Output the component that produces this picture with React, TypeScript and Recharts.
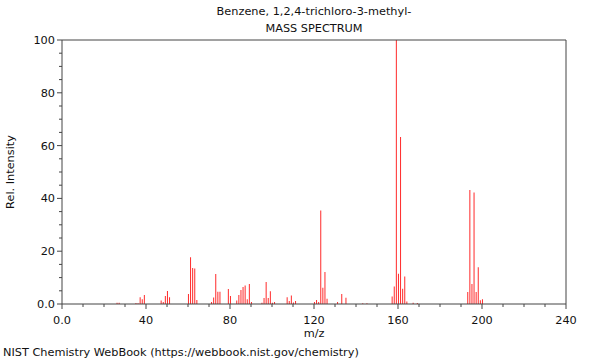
import React from 'react';
import { BarChart, Bar, XAxis, YAxis, ReferenceLine, Label } from 'recharts';

// peak positions (m/z) and relative intensities
const massToCharge = [
  26, 27, 35, 36, 37, 38, 39, 47, 48, 49, 50, 51, 60, 61, 62, 63, 64,
  71, 72, 73, 74, 75, 79, 80, 83, 84, 85, 86, 87, 88, 89, 90,
  95, 96, 97, 98, 99, 100, 101, 107, 108, 109, 110, 111,
  120, 121, 122, 123, 124, 125, 126, 131, 133, 135, 143, 145,
  157, 158, 159, 160, 161, 162, 163, 164, 167, 169,
  193, 194, 195, 196, 197, 198, 199, 200,
];
const intensity = [
  0.5, 0.5, 0.4, 0.3, 2.6, 1.8, 3.4, 1.3, 0.8, 3.0, 4.9, 2.6, 3.8, 17.7, 13.6, 13.4, 1.5,
  0.8, 2.5, 11.4, 4.6, 4.6, 5.7, 3.0, 1.3, 3.4, 5.3, 6.4, 7.0, 1.8, 7.6, 0.8,
  0.5, 2.3, 8.3, 2.3, 4.8, 0.5, 0.8, 2.6, 1.1, 3.2, 0.6, 1.1,
  0.8, 1.5, 0.8, 35.4, 6.2, 12.1, 2.0, 0.8, 3.8, 2.4, 0.3, 0.3,
  2.8, 6.6, 100, 11.5, 63.3, 5.8, 10.4, 0.9, 0.5, 0.4,
  4.5, 43.2, 7.6, 42.2, 4.5, 13.9, 1.4, 1.8,
];

const xTicks = [0, 10, 20, 30, 40, 50, 60, 70, 80, 90, 100, 110, 120, 130, 140, 150, 160, 170, 180, 190, 200, 210, 220, 230, 240];
const xMajor = [0, 40, 80, 120, 160, 200, 240];
const yTicks = [0, 5, 10, 15, 20, 25, 30, 35, 40, 45, 50, 55, 60, 65, 70, 75, 80, 85, 90, 95, 100];
const yMajor = [0, 20, 40, 60, 80, 100];

const data = massToCharge.map((mz, i) => ({ mz, intensity: intensity[i] }));

const FONT = '"DejaVu Sans", sans-serif';
const FS = 11.3;
const AXIS = '#444';
const PEAK = '#ff2a2a';

const fmt = (v: number) => (v === 0 ? '0.0' : String(v));

const XTick = (props: any) => {
  const { x, y, payload } = props;
  const major = xMajor.includes(payload.value);
  return (
    <g>
      <line x1={x} y1={y} x2={x} y2={y + (major ? 5 : 3)} stroke={AXIS} />
      {major && (
        <text x={x} y={y + 20} textAnchor="middle" fontSize={FS} fontFamily={FONT} fill="#111">
          {fmt(payload.value)}
        </text>
      )}
    </g>
  );
};

const YTick = (props: any) => {
  const { x, y, payload } = props;
  const major = yMajor.includes(payload.value);
  return (
    <g>
      <line x1={x - (major ? 5 : 3)} y1={y} x2={x} y2={y} stroke={AXIS} />
      {major && (
        <text x={x - 7} y={y + 4} textAnchor="end" fontSize={FS} fontFamily={FONT} fill="#111">
          {fmt(payload.value)}
        </text>
      )}
    </g>
  );
};

export default function App() {
  return (
    <div style={{ position: 'absolute', left: 0, top: 0, width: 600, height: 360, background: '#fff', fontFamily: FONT }}>
      <div style={{ position: 'absolute', left: 114, width: 400, top: 5, textAlign: 'center', fontSize: FS, color: '#111' }}>
        Benzene, 1,2,4-trichloro-3-methyl-
      </div>
      <div style={{ position: 'absolute', left: 114, width: 400, top: 22, textAlign: 'center', fontSize: FS, color: '#111' }}>
        MASS SPECTRUM
      </div>
      <BarChart
        width={600}
        height={360}
        data={data}
        margin={{ top: 40, right: 34, bottom: 26, left: 22 }}
        barGap={0}
        barCategoryGap={0}
      >
        <XAxis
          dataKey="mz"
          type="number"
          domain={[0, 240]}
          ticks={xTicks}
          interval={0}
          height={30}
          tickSize={0}
          tickMargin={0}
          tick={<XTick />}
          stroke={AXIS}
          allowDataOverflow
        >
          <Label
            content={() => (
              <text x={314} y={337} textAnchor="middle" fontSize={FS} fontFamily={FONT} fill="#111">
                m/z
              </text>
            )}
          />
        </XAxis>
        <YAxis
          type="number"
          domain={[0, 100]}
          ticks={yTicks}
          interval={0}
          width={40}
          tickSize={0}
          tickMargin={0}
          tick={<YTick />}
          stroke={AXIS}
        >
          <Label
            content={() => (
              <text x={14} y={172} transform="rotate(-90 14 172)" textAnchor="middle" fontSize={FS} fontFamily={FONT} fill="#111">
                Rel. Intensity
              </text>
            )}
          />
        </YAxis>
        <ReferenceLine y={100} stroke={AXIS} />
        <ReferenceLine x={240} stroke={AXIS} />
        <Bar dataKey="intensity" fill={PEAK} barSize={1} isAnimationActive={false} />
      </BarChart>
      <div style={{ position: 'absolute', left: 3, top: 346, fontSize: FS, color: '#111', whiteSpace: 'nowrap' }}>
        NIST Chemistry WebBook (https://webbook.nist.gov/chemistry)
      </div>
    </div>
  );
}
